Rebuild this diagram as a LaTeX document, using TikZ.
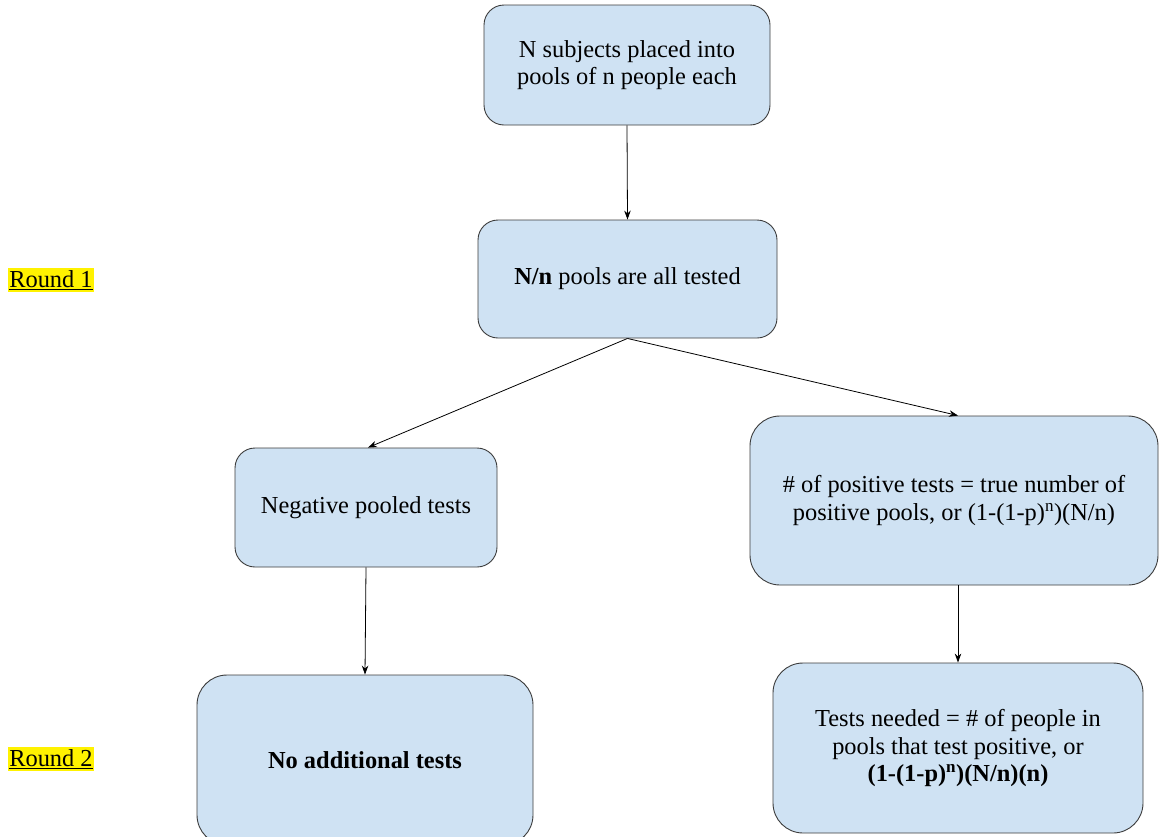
\documentclass[tikz,border=0pt]{standalone}
\usepackage{fontspec}
\setmainfont{Liberation Serif}
\usetikzlibrary{arrows.meta}
\definecolor{boxblue}{HTML}{CFE2F3}
\definecolor{boxline}{HTML}{3C3C3C}
\tikzset{
  stepbox/.style={draw=boxline, fill=boxblue, rounded corners=20pt, align=center,
    font=\fontsize{24.4}{27.5}\selectfont, line width=0.9pt},
  roundlabel/.style={fill=yellow, inner xsep=1pt, inner ysep=2pt, font=\fontsize{24.4}{27.5}\selectfont},
  flow/.style={-{Stealth[length=9pt,width=6.5pt]}, line width=0.8pt}
}
\begin{document}
\begin{tikzpicture}[x=1pt,y=-1pt]
  \useasboundingbox (0,0) rectangle (1159,836);
  \begin{scope}
    \clip (0,0) rectangle (1159,836);
    % boxes
    \node (subjects) [stepbox, minimum width=286pt, minimum height=120pt] at (627,65)
      {N subjects placed into\\pools of n people each};
    \node (pools) [stepbox, minimum width=299pt, minimum height=118pt] at (627.5,279)
      {\textbf{N/n} pools are all tested};
    \node (negative) [stepbox, minimum width=262pt, minimum height=119pt] at (366,507.5)
      {Negative pooled tests};
    \node (positive) [stepbox, rounded corners=30pt, minimum width=408pt, minimum height=169pt] at (954,500.5)
      {\# of positive tests = true number of\\positive pools, or (1-(1-p)\textsuperscript{n})(N/n)};
    \node (noextra) [stepbox, rounded corners=30pt, minimum width=336pt, minimum height=170pt] at (365,760)
      {\textbf{No additional tests}};
    \node (needed) [stepbox, rounded corners=30pt, minimum width=370pt, minimum height=170pt] at (958,748)
      {Tests needed = \# of people in\\pools that test positive, or\\\textbf{(1-(1-p)\textsuperscript{n})(N/n)(n)}};
    % rounds
    \node (round1) [roundlabel] at (51,280) {\underline{Round 1}};
    \node (round2) [roundlabel] at (51,759) {\underline{Round 2}};
    % arrows
    \draw[flow] (subjects.south) -- (pools.north);
    \draw[flow] (pools.south) -- ([xshift=2pt]negative.north);
    \draw[flow] (pools.south) -- (positive.north -| needed.north);
    \draw[flow] (negative.south) -- (noextra.north);
    \draw[flow] (positive.south -| needed.north) -- (needed.north);
  \end{scope}
\end{tikzpicture}
\end{document}
